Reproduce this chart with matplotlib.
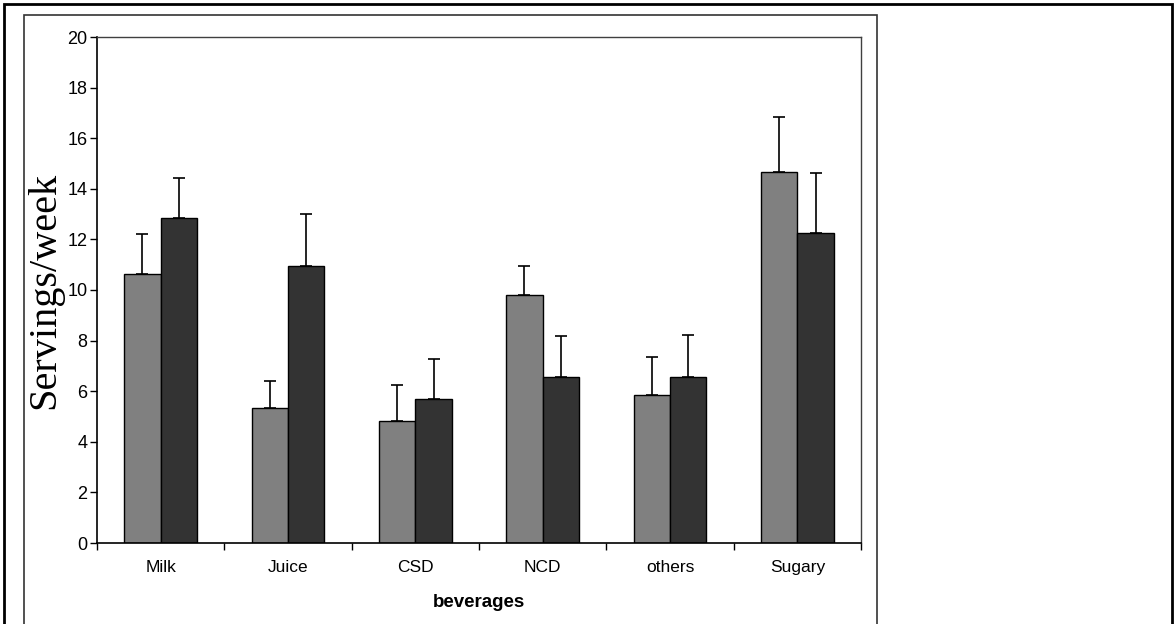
import matplotlib.pyplot as plt
import numpy as np
from matplotlib.patches import Rectangle

# data
categories = ["Milk", "Juice", "CSD", "NCD", "others", "Sugary"]
group_a = [10.65, 5.35, 4.83, 9.81, 5.86, 14.68]
group_a_err = [1.58, 1.05, 1.42, 1.14, 1.48, 2.15]
group_b = [12.85, 10.96, 5.69, 6.57, 6.57, 12.26]
group_b_err = [1.59, 2.06, 1.60, 1.61, 1.65, 2.36]
y_ticks = [0, 2, 4, 6, 8, 10, 12, 14, 16, 18, 20]

fig = plt.figure(figsize=(11.75, 6.24), dpi=100)

# outer frame and chart area frame (bottom edges run off the image)
fig.patches.append(Rectangle((4 / 1175, -0.1), 1168 / 1175, 1.1 - 4 / 624,
                             transform=fig.transFigure, fill=False,
                             edgecolor="black", linewidth=2))
fig.patches.append(Rectangle((24 / 1175, -0.1), 853 / 1175, 1.1 - 15 / 624,
                             transform=fig.transFigure, fill=False,
                             edgecolor="#333333", linewidth=1.2))

ax = fig.add_axes([97 / 1175, 1 - 543 / 624, 764 / 1175, 506 / 624])

x = np.arange(len(categories))
w = 0.286
err_kw = dict(ecolor="black", elinewidth=1.2, capsize=4.5, capthick=1.2)
ax.bar(x - w / 2, group_a, w, color="#808080", edgecolor="black", linewidth=1,
       yerr=[np.zeros(len(group_a)), group_a_err], error_kw=err_kw)
ax.bar(x + w / 2, group_b, w, color="#333333", edgecolor="black", linewidth=1,
       yerr=[np.zeros(len(group_b)), group_b_err], error_kw=err_kw)

ax.set_xlim(-0.5, len(categories) - 0.5)
ax.set_ylim(0, 20)
ax.set_yticks(y_ticks)
ax.set_yticklabels([str(t) for t in y_ticks], fontsize=13, family="Liberation Sans")

# category labels between boundary ticks
ax.set_xticks(np.arange(len(categories) + 1) - 0.5)
ax.set_xticklabels([])
ax.set_xticks(x, minor=True)
ax.set_xticklabels(categories, minor=True, fontsize=12.5, family="Liberation Sans")
ax.tick_params(axis="x", which="minor", length=0, pad=12)
ax.tick_params(axis="both", which="major", direction="out", length=5, width=1)
ax.tick_params(axis="y", pad=2)

for side in ["top", "right"]:
    ax.spines[side].set_color("#404040")
    ax.spines[side].set_linewidth(1)
for side in ["left", "bottom"]:
    ax.spines[side].set_linewidth(1.2)

ax.set_xlabel("beverages", fontsize=13.5, fontweight="bold",
              family="Liberation Sans", labelpad=14)
ax.set_ylabel("Servings/week", fontsize=29, family="Liberation Serif", labelpad=3)

fig.savefig("out.png", dpi=100)
